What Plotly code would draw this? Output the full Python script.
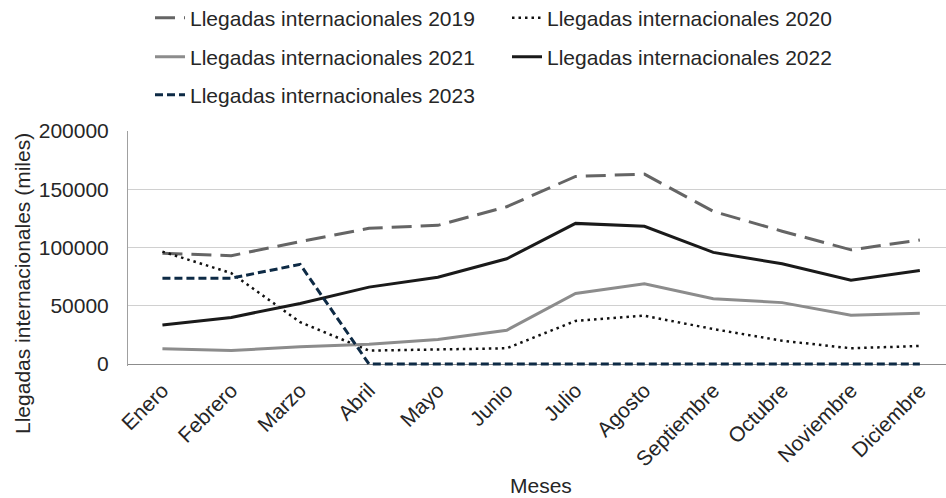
import plotly.graph_objects as go

meses = ["Enero", "Febrero", "Marzo", "Abril", "Mayo", "Junio", "Julio",
         "Agosto", "Septiembre", "Octubre", "Noviembre", "Diciembre"]

llegadas_2019 = [95000, 93000, 105000, 116500, 119000, 135000, 161000, 163000, 131000, 114000, 98000, 106500]
llegadas_2020 = [96500, 78000, 36000, 11500, 12500, 13500, 37000, 41500, 30000, 20000, 13500, 15500]
llegadas_2021 = [13200, 11500, 14900, 16900, 21000, 29000, 60500, 68800, 56000, 52700, 41800, 43600]
llegadas_2022 = [33500, 40000, 52000, 66000, 74500, 90300, 120700, 118200, 95800, 86000, 72000, 80300]
llegadas_2023 = [73700, 73700, 85500, 0, 0, 0, 0, 0, 0, 0, 0, 0]

y_ticks = [0, 50000, 100000, 150000, 200000]

FONT = "Liberation Sans, Arial, sans-serif"
TXT = "#262626"

W, H = 946, 498
L, R, T, B = 128, 0, 131, 132
plot_w = W - L - R
plot_h = H - T - B


def px_x(p):
    return (p - L) / plot_w


def px_y(p):
    return (H - B - p) / plot_h


fig = go.Figure()

series = [
    ("Llegadas internacionales 2019", llegadas_2019, dict(color="#656565", width=3, dash="20px,9px"), "legend"),
    ("Llegadas internacionales 2020", llegadas_2020, dict(color="#111111", width=2.5, dash="2.5px,4px"), "legend"),
    ("Llegadas internacionales 2021", llegadas_2021, dict(color="#8c8c8c", width=3), "legend2"),
    ("Llegadas internacionales 2022", llegadas_2022, dict(color="#1a1a1a", width=3), "legend2"),
    ("Llegadas internacionales 2023", llegadas_2023, dict(color="#0d2a45", width=3, dash="8px,4px"), "legend3"),
]

for name, vals, line, lg in series:
    fig.add_trace(go.Scatter(
        x=meses, y=vals, name=name, mode="lines", line=line, legend=lg,
    ))

leg_common = dict(
    orientation="h", xanchor="left", yanchor="middle",
    font=dict(family=FONT, size=21, color=TXT),
    bgcolor="rgba(0,0,0,0)", entrywidth=312, itemwidth=30,
)

fig.update_layout(
    width=W, height=H,
    margin=dict(l=L, r=R, t=T, b=B, autoexpand=False),
    paper_bgcolor="white", plot_bgcolor="white",
    font=dict(family=FONT, size=21, color=TXT),
    legend=dict(x=px_x(150), y=px_y(18), **leg_common),
    legend2=dict(x=px_x(150), y=px_y(57), **leg_common),
    legend3=dict(x=px_x(150), y=px_y(95), **leg_common),
    xaxis=dict(
        range=[-0.5, 11.38], tickangle=-45, showgrid=False,
        showline=False, zeroline=False, ticks="", automargin=False,
        ticklabelstandoff=7,
        tickfont=dict(family=FONT, size=21, color=TXT),
    ),
    yaxis=dict(
        range=[-1700, 200000], tickvals=y_ticks, ticktext=[str(v) for v in y_ticks],
        showgrid=True, gridcolor="#d0d0d0", gridwidth=1,
        zeroline=True, zerolinecolor="#8c8c8c", zerolinewidth=1,
        showline=True, linecolor="#a0a0a0", linewidth=1,
        ticks="", ticklabelstandoff=14, automargin=False,
        tickfont=dict(family=FONT, size=21, color=TXT),
    ),
    showlegend=True,
)

fig.add_annotation(
    text="Llegadas internacionales (miles)", textangle=-90,
    xref="paper", yref="paper", x=px_x(22), y=px_y(284),
    xanchor="center", yanchor="middle", showarrow=False,
    font=dict(family=FONT, size=21, color=TXT),
)
fig.add_annotation(
    text="Meses",
    xref="paper", yref="paper", x=px_x(541), y=px_y(486),
    xanchor="center", yanchor="middle", showarrow=False,
    font=dict(family=FONT, size=21, color=TXT),
)

fig.write_html(
    "out.html",
    config={"displayModeBar": False},
    post_script="document.body.style.margin='0';document.body.style.padding='0';",
)
